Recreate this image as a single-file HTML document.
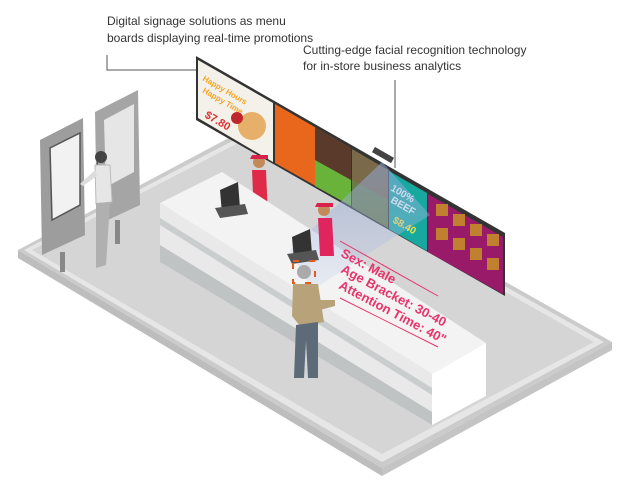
<!DOCTYPE html>
<html><head><meta charset="utf-8"><style>
html,body{margin:0;padding:0;background:#fff;width:620px;height:490px;overflow:hidden}
svg{display:block}
text{font-family:"Liberation Sans",sans-serif}
</style></head><body>
<svg width="620" height="490" viewBox="0 0 620 490" xmlns="http://www.w3.org/2000/svg">
<defs>
<linearGradient id="beam" x1="0" y1="0" x2="0" y2="1"><stop offset="0" stop-color="#8ea6d8" stop-opacity="0.8"/><stop offset="1" stop-color="#b9c7e6" stop-opacity="0.3"/></linearGradient>
</defs>
<!-- floor -->
<polygon points="18,250 240,132 612,342 382,468" fill="#cbcbcc"/>
<polygon points="18,250 382,468 382,476 18,258" fill="#bdbdbe"/>
<polygon points="382,468 612,342 612,350 382,476" fill="#c4c4c5"/>
<polygon points="24,250 240,137 604,342 382,462" fill="#e6e6e6"/>
<polygon points="32,250 240,142 594,342 382,454" fill="#d5d5d6"/>
<!-- labels -->
<text x="107" y="25" font-size="12" fill="#333">Digital signage solutions as menu</text>
<text x="107" y="42" font-size="12" fill="#333">boards displaying real-time promotions</text>
<polyline points="107,55 107,70 196,70" fill="none" stroke="#555" stroke-width="1"/>
<text x="303" y="54" font-size="12" fill="#333">Cutting-edge facial recognition technology</text>
<text x="303" y="70" font-size="12" fill="#333">for in-store business analytics</text>
<line x1="395" y1="80" x2="395" y2="168" stroke="#555"/>
<!-- screens -->
<polygon points="196,56 505,233 505,296 196,120" fill="#333"/>
<polygon points="198,60 273,103 273,162 198,118" fill="#f4f0ea"/>
<polygon points="275,104 351,148 351,206 275,163" fill="#e8671d"/>
<polygon points="315,127 351,148 351,206 315,186" fill="#5a3a2a"/>
<polygon points="315,160 351,180 351,206 315,186" fill="#6ab33a"/>
<polygon points="352,149 388,170 388,228 352,207" fill="#7a6a4a"/>
<polygon points="352,180 388,200 388,228 352,207" fill="#6b7c4a"/>
<polygon points="389,171 427,193 427,251 389,229" fill="#17a8a0"/>
<polygon points="428,194 503,237 503,294 428,252" fill="#9a1a6a"/>
<g fill="#c08030">
<rect x="436" y="204" width="12" height="12"/><rect x="453" y="214" width="12" height="12"/><rect x="470" y="224" width="12" height="12"/><rect x="487" y="234" width="12" height="12"/>
<rect x="436" y="228" width="12" height="12"/><rect x="453" y="238" width="12" height="12"/><rect x="470" y="248" width="12" height="12"/><rect x="487" y="258" width="12" height="12"/>
</g>
<rect x="372" y="152" width="22" height="6" fill="#444" transform="rotate(30 383 155)"/>
<text x="202" y="80" font-size="8" fill="#f5a623" font-weight="bold" transform="rotate(30 202 80)">Happy Hours</text>
<text x="202" y="92" font-size="8" fill="#f5a623" font-weight="bold" transform="rotate(30 202 92)">Happy Time</text>
<text x="204" y="117" font-size="11" fill="#d33" font-weight="bold" transform="rotate(30 204 117)">$7.80</text>
<circle cx="252" cy="126" r="14" fill="#e7b06a"/><circle cx="237" cy="118" r="6" fill="#c0272d"/>
<text x="390" y="190" font-size="10" fill="#fff" font-weight="bold" transform="rotate(30 390 190)">100%</text>
<text x="390" y="202" font-size="10" fill="#fff" font-weight="bold" transform="rotate(30 390 202)">BEEF</text>
<text x="392" y="222" font-size="10" fill="#ffe14a" font-weight="bold" transform="rotate(30 392 222)">$8.40</text>
<!-- staff back -->
<circle cx="259" cy="162" r="6" fill="#c28a5a"/><path d="M250,159 h18 v-4 h-16z" fill="#d9214c"/>
<polygon points="252,170 266,170 268,218 254,218" fill="#e02a4a"/>
<!-- counter -->
<polygon points="160,203 222,172 486,343 432,374" fill="#f3f3f3"/>
<polygon points="160,203 432,374 432,425 160,262" fill="#e9e9ea"/>
<polygon points="160,218 432,388 432,395 160,225" fill="#c9cdcd"/>
<polygon points="160,245 432,412 432,425 160,262" fill="#bfc3c3"/>
<polygon points="432,374 486,343 486,396 432,425" fill="#ffffff"/>
<!-- beam -->
<polygon points="382,162 290,250 312,290 390,240 430,215" fill="url(#beam)" opacity="0.7"/>
<!-- registers -->
<polygon points="220,190 238,182 240,208 222,214" fill="#333"/><polygon points="215,208 245,204 248,214 220,218" fill="#555"/>
<polygon points="292,237 310,229 312,254 294,260" fill="#333"/><polygon points="287,254 316,250 319,260 292,264" fill="#555"/>
<!-- staff front -->
<circle cx="324" cy="210" r="6" fill="#c28a5a"/><path d="M315,207 h18 v-4 h-16z" fill="#d9214c"/>
<polygon points="318,218 332,218 334,256 320,256" fill="#e0245e"/>
<!-- text overlay -->
<g fill="#e8336b" font-weight="bold" font-size="13">
<text x="340" y="256" transform="rotate(28 340 256)">Sex: Male</text>
<text x="340" y="272" transform="rotate(28 340 272)">Age Bracket: 30-40</text>
<text x="338" y="288" transform="rotate(28 338 288)">Attention Time: 40"</text>
</g>
<line x1="340" y1="241" x2="438" y2="296" stroke="#e8336b"/>
<line x1="340" y1="298" x2="438" y2="347" stroke="#e8336b"/>
<!-- customer -->
<rect x="293" y="261" width="22" height="22" fill="none" stroke="#e85a1a" stroke-width="2" stroke-dasharray="6 10"/>
<circle cx="304" cy="272" r="7" fill="#aaa"/>
<polygon points="293,284 318,284 324,322 300,326 292,316" fill="#b8a27a"/>
<polygon points="318,300 335,300 335,306 320,310" fill="#b8a27a"/>
<polygon points="296,325 318,322 318,378 308,378 306,340 304,378 294,378" fill="#5d6a78"/>
<!-- kiosks -->
<polygon points="40,140 83,118 85,235 42,255" fill="#9d9d9e"/>
<polygon points="50,148 80,133 80,205 52,220" fill="#f2f2f2" stroke="#555" stroke-width="1.5"/>
<rect x="60" y="252" width="5" height="20" fill="#888"/>
<polygon points="95,112 138,90 140,205 97,225" fill="#a5a5a6"/>
<polygon points="104,120 134,104 134,172 106,187" fill="#e6e6e6"/>
<rect x="115" y="220" width="5" height="24" fill="#888"/>
<!-- kiosk person -->
<circle cx="101" cy="157" r="6" fill="#444"/>
<path d="M97,160 l-2,25 h8z" fill="#444"/>
<polygon points="95,165 110,165 112,202 96,204" fill="#e6e6e6" stroke="#bbb"/>
<polygon points="95,170 80,184 83,186 97,176" fill="#ddd"/>
<polygon points="96,203 110,202 106,265 96,268" fill="#b0b0b0"/>
</svg>
</body></html>
